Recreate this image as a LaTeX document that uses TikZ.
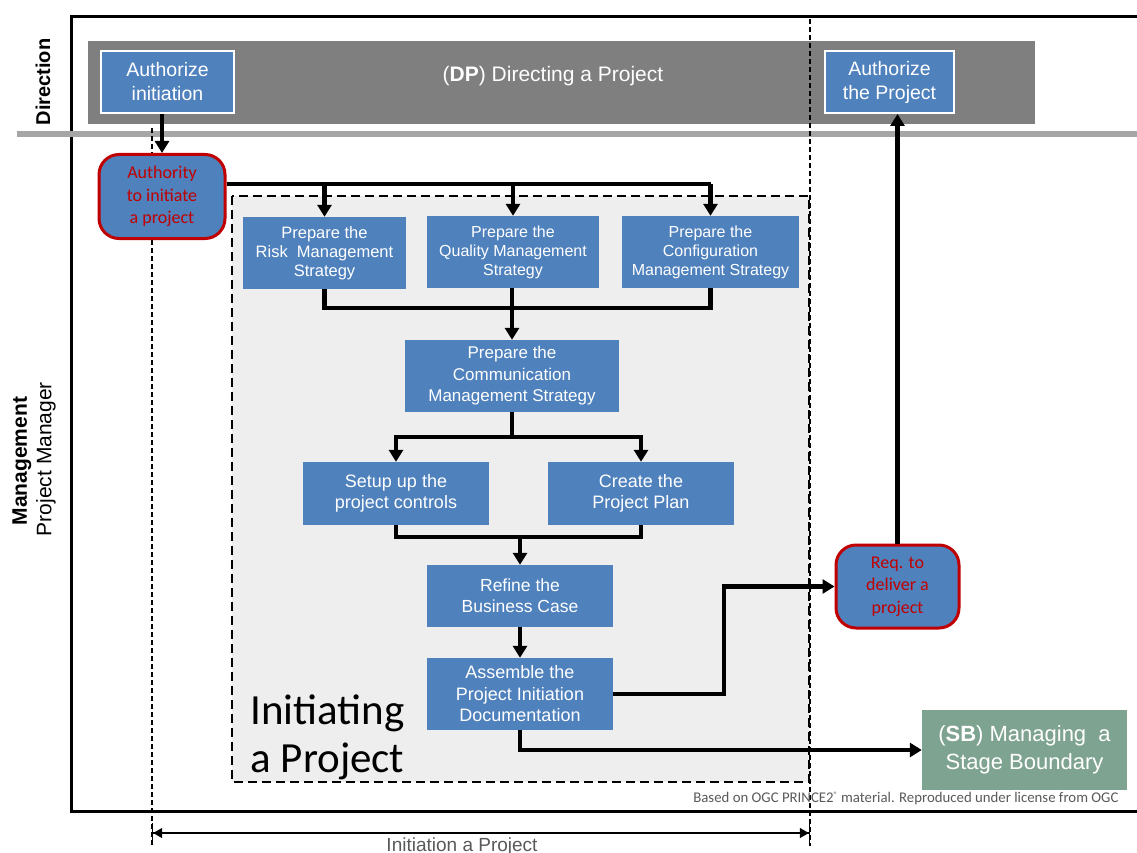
\documentclass[tikz,border=0pt]{standalone}
\usepackage{fontspec}
\setmainfont{Liberation Sans}
\newfontfamily\calibri{Carlito}
\usetikzlibrary{arrows.meta}
\definecolor{boxblue}{HTML}{4F81BD}
\definecolor{dpgray}{HTML}{7F7F7F}
\definecolor{sepgray}{HTML}{A6A6A6}
\definecolor{areagray}{HTML}{EEEEEE}
\definecolor{darkred}{HTML}{C00000}
\definecolor{sbgreen}{HTML}{7FA391}
\definecolor{notegray}{HTML}{595959}
\newcommand{\fs}[2]{\fontsize{#1}{#2}\selectfont}

\begin{document}
\begin{tikzpicture}[x=1pt, y=-1pt,
  proc/.style={fill=boxblue, text=white, align=center, inner sep=0pt, font=\fs{16}{19}},
  authbox/.style={proc, draw=white, line width=2pt, font=\fs{19.5}{24}},
  outbox/.style={proc, draw=darkred, line width=3pt, rounded corners=20pt, text=darkred, font=\calibri\fs{18}{22.5}},
  conn/.style={line width=4.5pt},
  flow/.style={conn, -{Triangle[length=12pt,width=14pt]}},
  guide/.style={line width=1.2pt, dash pattern=on 5pt off 3pt},
  lane/.style={rotate=90, font=\fs{21}{25}}]
  \useasboundingbox (0,0) rectangle (1137,853);
  \draw[line width=3pt] (1140,17) -- (71,17) -- (71,811) -- (1140,811);
  \draw[line width=6pt, sepgray] (17,134) -- (1140,134);
  \fill[dpgray] (88,41) rectangle (1035,124);
  \draw[guide] (152,128) -- (152,846);
  \draw[guide] (810,19) -- (810,846);
  \draw[line width=2.5pt, dash pattern=on 9pt off 5pt, fill=areagray] (232,196) rectangle (809,782);

  \node[text=white, font=\fs{21}{25}] (dp) at (553,76) {(\textbf{DP}) Directing a Project};
  \node[lane, font=\bfseries\fs{20}{24}] (direction) at (43,82) {Direction};
  \node[lane, font=\bfseries\fs{21}{25}] (mgmt) at (22,461) {Management};
  \node[lane] (pm) at (46,459) {Project Manager};

  \node[authbox, minimum width=133pt, minimum height=62pt] (authinit) at (167.5,82) {Authorize\\initiation};
  \node[authbox, minimum width=129pt, minimum height=62pt] (authproj) at (889.5,82) {Authorize\\the Project};
  \node[outbox, minimum width=126pt, minimum height=84pt] (authority) at (162,196.5) {Authority\\to initiate\\a project};
  \node[outbox, minimum width=123pt, minimum height=83pt] (req) at (897.5,586.5) {Req. to\\deliver a\\project};

  \node[proc, minimum width=163pt, minimum height=72pt, font=\fs{16.5}{19}] (risk) at (324.5,253) {Prepare the\\Risk~ Management\\Strategy};
  \node[proc, minimum width=172pt, minimum height=72pt] (quality) at (513,252) {Prepare the\\Quality Management\\Strategy};
  \node[proc, minimum width=177pt, minimum height=72pt] (config) at (710.5,252) {Prepare the\\Configuration\\Management Strategy};
  \node[proc, minimum width=214pt, minimum height=72pt, font=\fs{17}{21.5}] (comm) at (512,376) {Prepare the\\Communication\\Management Strategy};
  \node[proc, minimum width=186pt, minimum height=63pt, font=\fs{18}{21}] (setup) at (396,493.5) {Setup up the\\project controls};
  \node[proc, minimum width=186pt, minimum height=63pt, font=\fs{18}{21}] (create) at (641,493.5) {Create the\\Project Plan};
  \node[proc, minimum width=186pt, minimum height=62pt, font=\fs{17.5}{21}] (refine) at (520,596) {Refine the\\Business Case};
  \node[proc, minimum width=186pt, minimum height=72pt, font=\fs{18}{21.5}] (assemble) at (520,694) {Assemble the\\Project Initiation\\Documentation};
  \node[proc, fill=sbgreen, minimum width=205pt, minimum height=80pt, font=\fs{22}{28}] (sb) at (1024.5,750) {(\textbf{SB}) Managing~ a\\Stage Boundary};

  \node[anchor=base west, align=left, font=\calibri\fs{43}{48}] (title) at (247,772) {Initiating\\a Project};
  \node[anchor=base east, text=notegray, font=\calibri\fs{14.8}{17}] (note) at (1122,802) {Based on OGC PRINCE2\raisebox{0.7ex}{\fs{8}{8}®} material. Reproduced under license from OGC};
  \node[anchor=base, text=notegray, font=\fs{19}{23}] (span) at (462,851) {Initiation a Project};

  \draw[flow] (authinit.south -| authority.north) -- (authority.north);
  \coordinate (bus) at (710.5,184);
  \draw[conn] ([yshift=12.5pt]authority.east) -- (bus);
  \foreach \n in {risk,quality,config}
    \draw[flow] (\n.north |- bus) -- (\n.north);
  \draw[conn] (risk.south) -- ++(0,19) coordinate (join1) -| (config.south);
  \draw[conn] (quality.south -| comm.north) -- (join1 -| comm.north);
  \draw[flow] (join1 -| comm.north) -- (comm.north);
  \draw[conn] (comm.south) -- ++(0,25) coordinate (split);
  \draw[flow] (split) -| (setup.north);
  \draw[flow] (split) -| (create.north);
  \draw[conn] (setup.south) -- ++(0,12) coordinate (join2) -| (create.south);
  \draw[flow] (join2 -| refine.north) -- (refine.north);
  \draw[flow] (refine) -- (assemble);
  \draw[flow] (assemble.east) -- ++(111,0) |- (req.west);
  \draw[flow] (req.north) -- (req.north |- authproj.south);
  \draw[flow] (assemble.south) |- (sb.west);
  \coordinate (dimL) at (152,833);
  \coordinate (dimR) at (810,833);
  \draw[line width=1.2pt, {Bar[width=20pt]Triangle[length=9pt,width=10pt]}-{Triangle[length=9pt,width=10pt]Bar[width=20pt]}] (dimL) -- (dimR);
\end{tikzpicture}
\end{document}
